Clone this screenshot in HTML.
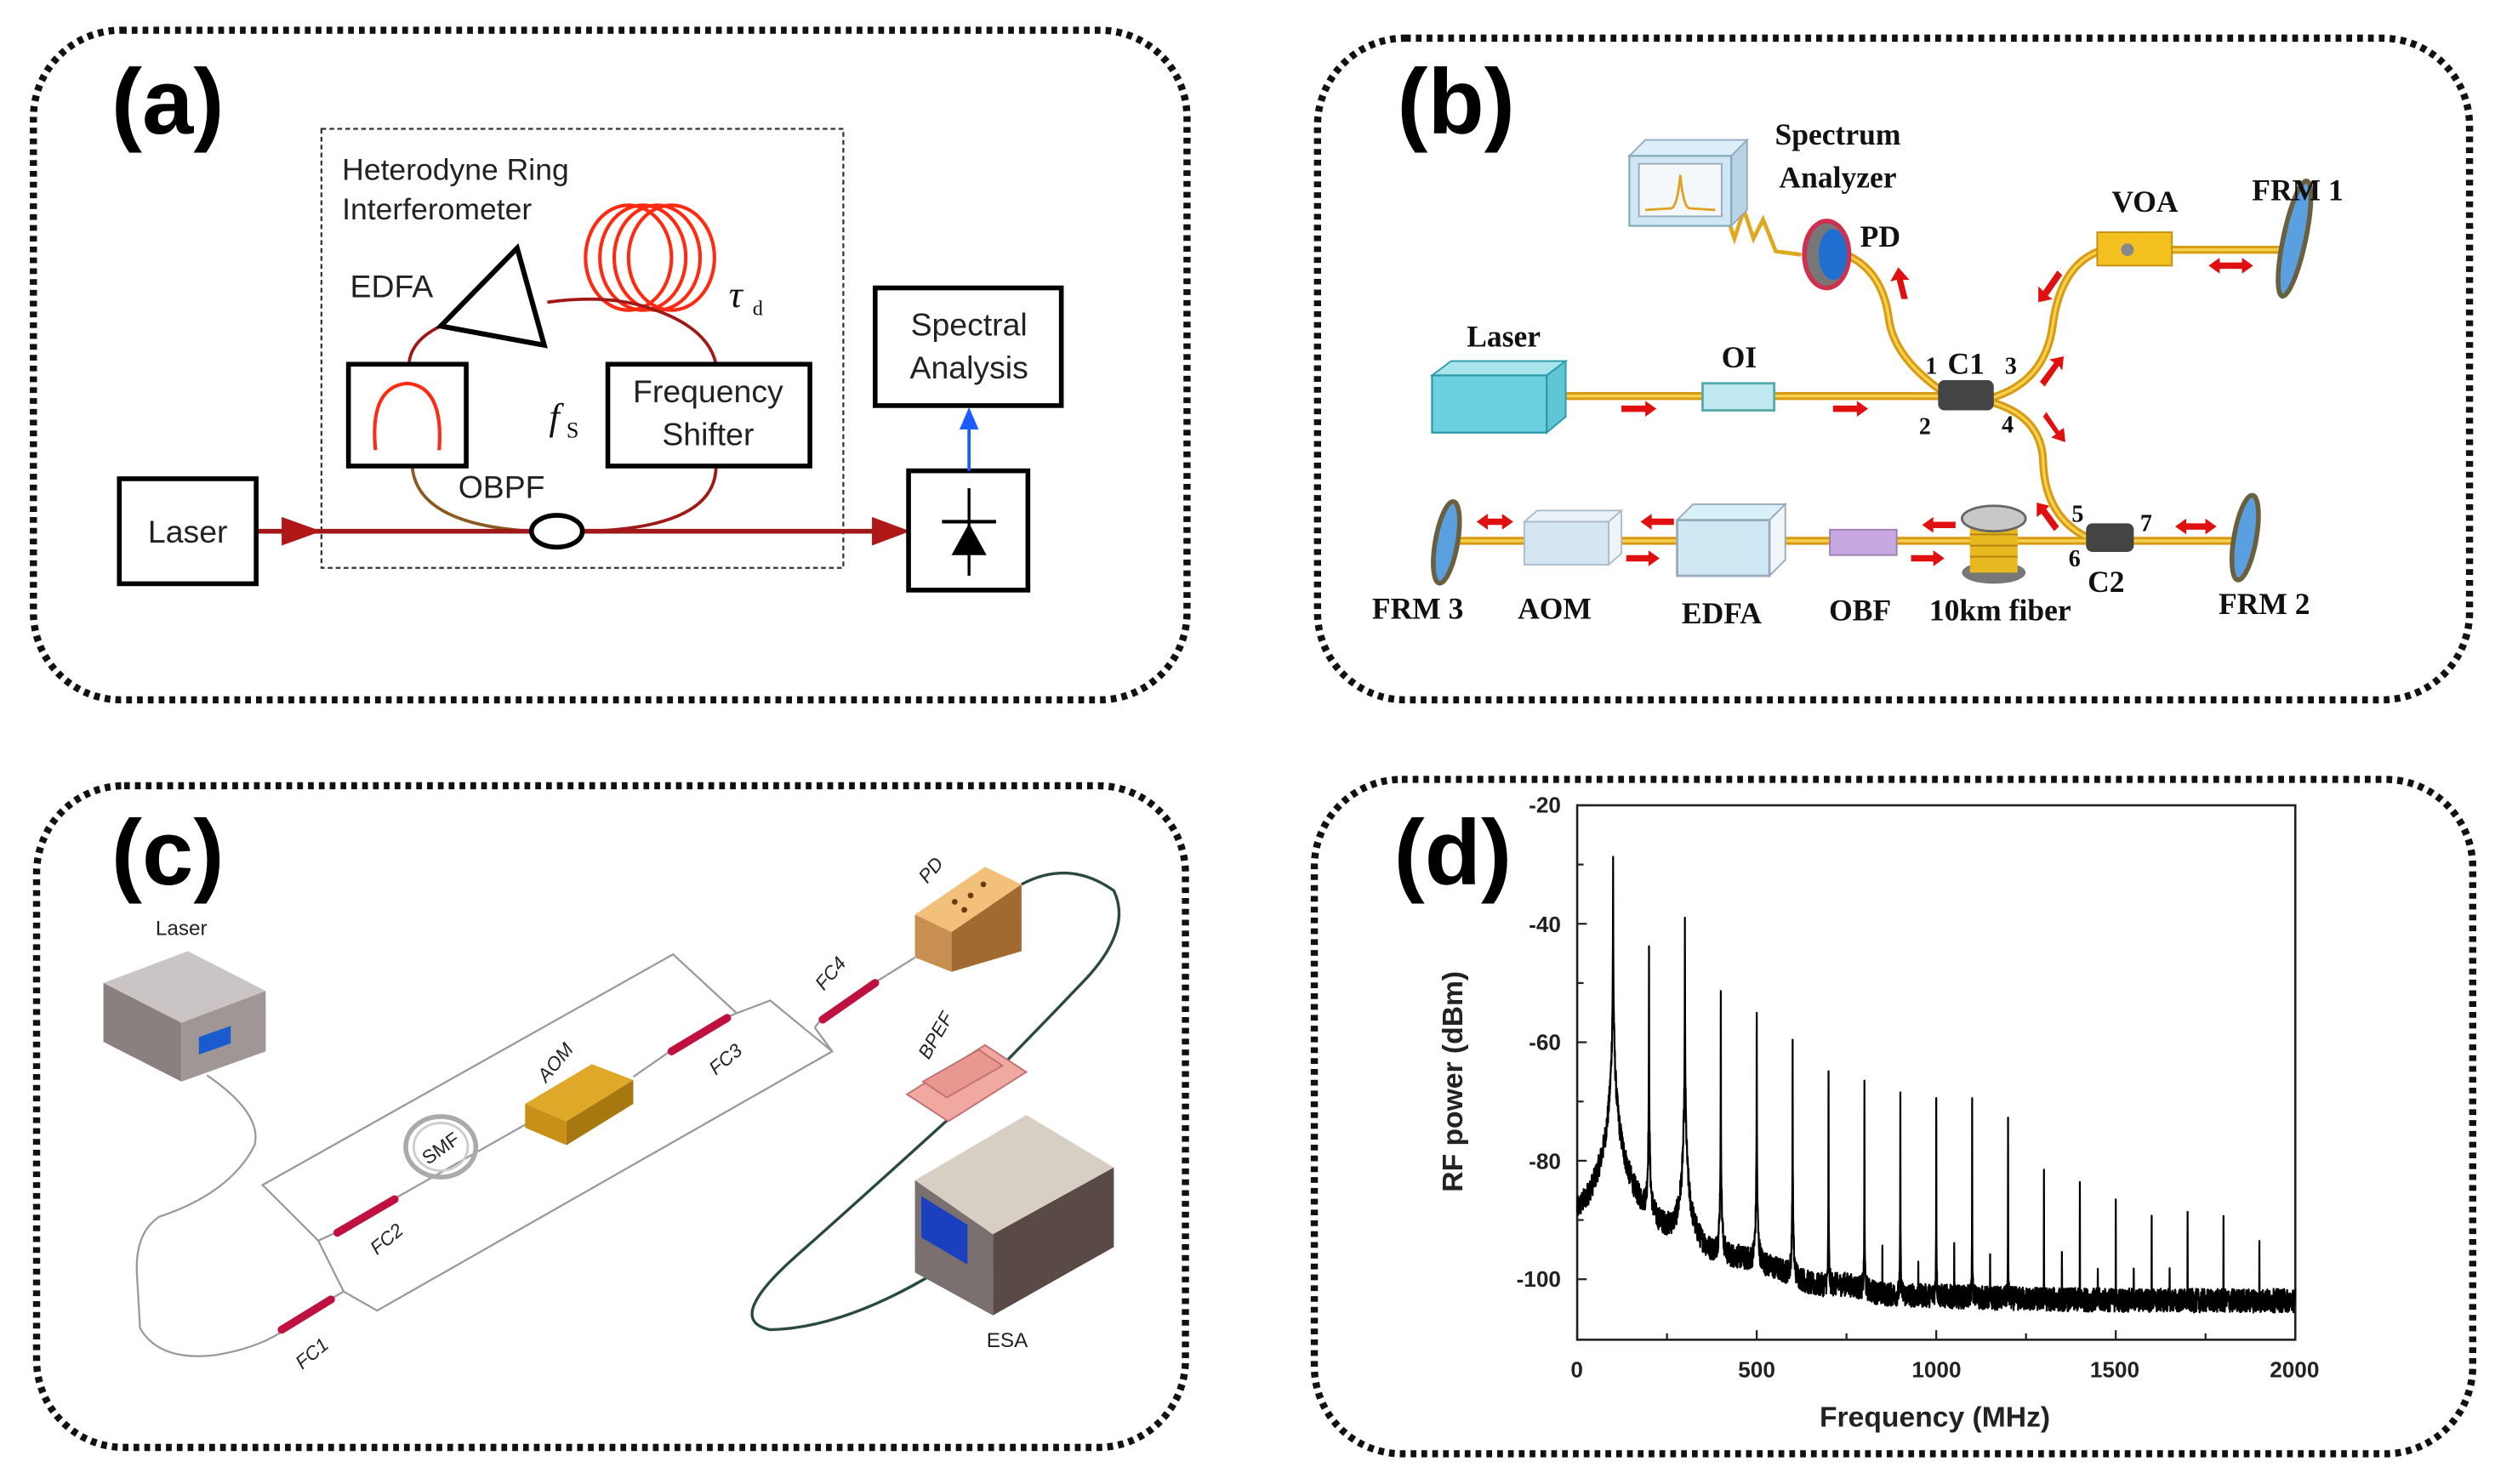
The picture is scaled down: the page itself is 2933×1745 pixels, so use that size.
<!DOCTYPE html>
<html><head><meta charset="utf-8"><style>
html,body{margin:0;padding:0;background:#fff;}
svg{display:block;}
.lbl{font-family:"Liberation Sans",sans-serif;font-weight:bold;font-size:58px;fill:#000;}
.sa{font-family:"Liberation Sans",sans-serif;fill:#222;}
.sb{font-family:"Liberation Serif",serif;font-weight:bold;fill:#111;}
</style></head><body>
<svg width="2933" height="1745" viewBox="0 0 1568 933" preserveAspectRatio="none" xmlns="http://www.w3.org/2000/svg">
<g fill="none" stroke="#111" stroke-width="4.5" stroke-dasharray="3.6 3.2">
<rect x="21" y="19" width="725" height="421" rx="55"/>
<rect x="828" y="24" width="724" height="416" rx="55"/>
<rect x="23" y="494" width="722" height="416" rx="55"/>
<rect x="826" y="490" width="728" height="424" rx="55"/>
</g>

<!-- (a) -->
<text class="lbl" x="70" y="84">(a)</text>
<rect x="202" y="81" width="328" height="276" fill="none" stroke="#333" stroke-width="1.2" stroke-dasharray="3 2"/>
<text class="sa" x="215" y="113" font-size="19">Heterodyne Ring</text>
<text class="sa" x="215" y="138" font-size="19">Interferometer</text>
<g fill="none" stroke="#ff2a10" stroke-width="2.2">
<ellipse cx="395" cy="162" rx="27" ry="33"/><ellipse cx="404" cy="162" rx="27" ry="33"/>
<ellipse cx="413" cy="162" rx="27" ry="33"/><ellipse cx="422" cy="162" rx="27" ry="33"/>
</g>
<text x="458" y="193" font-family="Liberation Serif,serif" font-style="italic" font-size="24" fill="#111">τ</text>
<text x="473" y="198" font-family="Liberation Serif,serif" font-size="13" fill="#111">d</text>
<text class="sa" x="220" y="187" font-size="20">EDFA</text>
<g fill="none" stroke="#a01818" stroke-width="2">
<path d="M257,229 Q258,214 277,205"/>
<path d="M344,190 Q380,185 406,193 Q445,205 450,229"/>
<path d="M450,293 Q450,332 368,334"/>
</g>
<path d="M259,293 Q262,330 335,334" fill="none" stroke="#8a5a20" stroke-width="2"/>
<polygon points="325,156 277,205 342,217" fill="#fff" stroke="#000" stroke-width="3.2"/>
<rect x="219" y="229" width="74" height="64" fill="#fff" stroke="#000" stroke-width="3"/>
<path d="M236,283 Q232,243 256,241 Q279,243 276,283" fill="none" stroke="#ff2a10" stroke-width="2.2"/>
<rect x="382" y="229" width="127" height="64" fill="#fff" stroke="#000" stroke-width="3"/>
<text class="sa" x="445" y="253" font-size="20" text-anchor="middle">Frequency</text>
<text class="sa" x="445" y="280" font-size="20" text-anchor="middle">Shifter</text>
<text x="345" y="270" font-family="Liberation Serif,serif" font-style="italic" font-size="24" fill="#111">f</text>
<text x="356" y="275" font-family="Liberation Serif,serif" font-size="14" fill="#111">S</text>
<text class="sa" x="288" y="313" font-size="20">OBPF</text>
<line x1="161" y1="334" x2="552" y2="334" stroke="#a01818" stroke-width="3"/>
<polygon points="177,325 202,334 177,343" fill="#b01818"/>
<polygon points="548,325 572,334 548,343" fill="#b01818"/>
<ellipse cx="350" cy="334" rx="16" ry="10" fill="#fff" stroke="#000" stroke-width="3"/>
<rect x="75" y="301" width="86" height="66" fill="#fff" stroke="#000" stroke-width="3"/>
<text class="sa" x="118" y="341" font-size="20" text-anchor="middle">Laser</text>
<rect x="571" y="296" width="75" height="75" fill="#fff" stroke="#000" stroke-width="3"/>
<line x1="609" y1="307" x2="609" y2="362" stroke="#000" stroke-width="1.8"/>
<line x1="592" y1="328" x2="626" y2="328" stroke="#000" stroke-width="2.2"/>
<polygon points="609,329 598,349 620,349" fill="#000"/>
<rect x="550" y="181" width="117" height="74" fill="#fff" stroke="#000" stroke-width="3"/>
<text class="sa" x="609" y="211" font-size="20" text-anchor="middle">Spectral</text>
<text class="sa" x="609" y="238" font-size="20" text-anchor="middle">Analysis</text>
<line x1="609" y1="296" x2="609" y2="268" stroke="#1a5cff" stroke-width="2"/>
<polygon points="603,270 609,256 615,270" fill="#1a5cff"/>

<!-- (b) -->
<text class="lbl" x="878" y="84">(b)</text>
<g stroke-linecap="round" fill="none">
<g stroke="#d89a10" stroke-width="5">
<path d="M984,249 L1222,249"/>
<path d="M1222,247 Q1190,225 1187,200 Q1183,170 1160,160"/>
<path d="M1252,250 Q1285,240 1290,205 Q1295,165 1322,157"/>
<path d="M1365,157 L1436,157"/>
<path d="M1252,253 Q1283,262 1284,290 Q1285,325 1312,338"/>
<path d="M910,340 L1405,340"/>
</g>
<g stroke="#f8d050" stroke-width="1.8">
<path d="M984,249 L1222,249"/>
<path d="M1222,247 Q1190,225 1187,200 Q1183,170 1160,160"/>
<path d="M1252,250 Q1285,240 1290,205 Q1295,165 1322,157"/>
<path d="M1365,157 L1436,157"/>
<path d="M1252,253 Q1283,262 1284,290 Q1285,325 1312,338"/>
<path d="M910,340 L1405,340"/>
</g>
<path d="M1086,138 L1090,150 L1096,132 L1102,150 L1108,138 L1116,158 L1131,160" stroke="#e0a820" stroke-width="2.5"/>
</g>
<polygon points="1024,98 1034,88 1098,88 1088,98" fill="#dceef8" stroke="#9ab" stroke-width="1"/>
<polygon points="1088,98 1098,88 1098,132 1088,142" fill="#b8d4e4" stroke="#9ab" stroke-width="1"/>
<rect x="1024" y="98" width="64" height="44" fill="#cfe6f5" stroke="#8ab" stroke-width="1.2"/>
<rect x="1030" y="103" width="52" height="33" fill="#f4f8fa" stroke="#9ab" stroke-width="1"/>
<path d="M1034,132 L1050,131 Q1054,131 1056,110 Q1058,131 1062,131 L1078,132" fill="none" stroke="#e0a020" stroke-width="1.5"/>
<text class="sb" x="1155" y="91" font-size="19" text-anchor="middle">Spectrum</text>
<text class="sb" x="1155" y="118" font-size="19" text-anchor="middle">Analyzer</text>
<ellipse cx="1148" cy="160" rx="14" ry="21" fill="#777" stroke="#d03050" stroke-width="3"/>
<ellipse cx="1152" cy="160" rx="9" ry="16" fill="#1e6fd0"/>
<text class="sb" x="1169" y="155" font-size="19">PD</text>
<polygon points="900,236 912,227 984,227 972,236" fill="#a8e4ec" stroke="#2a9aaa" stroke-width="1"/>
<polygon points="972,236 984,227 984,262 972,272" fill="#60c6d6" stroke="#2a9aaa" stroke-width="1"/>
<rect x="900" y="236" width="72" height="36" fill="#6cd0e0" stroke="#2a9aaa" stroke-width="1.2"/>
<text class="sb" x="945" y="218" font-size="19" text-anchor="middle">Laser</text>
<rect x="1070" y="241" width="45" height="17" fill="#bfe8f0" stroke="#5aa" stroke-width="1.5"/>
<text class="sb" x="1093" y="231" font-size="19" text-anchor="middle">OI</text>
<g fill="#e01010">
<polygon points="1019,255 1034,255 1034,252 1041,257 1034,262 1034,259 1019,259"/>
<polygon points="1152,255 1167,255 1167,252 1174,257 1167,262 1167,259 1152,259"/>
</g>
<rect x="1218" y="239" width="35" height="19" rx="4" fill="#444"/>
<text class="sb" x="1210" y="235" font-size="15">1</text>
<text class="sb" x="1224" y="235" font-size="19">C1</text>
<text class="sb" x="1260" y="235" font-size="15">3</text>
<text class="sb" x="1206" y="273" font-size="15">2</text>
<text class="sb" x="1258" y="272" font-size="15">4</text>
<rect x="1318" y="146" width="47" height="21" fill="#f4c020" stroke="#c09010" stroke-width="1"/>
<circle cx="1337" cy="157" r="4" fill="#888"/>
<text class="sb" x="1348" y="133" font-size="19" text-anchor="middle">VOA</text>
<ellipse cx="1442" cy="150" rx="7" ry="37" transform="rotate(12 1442 150)" fill="#5aa0e0" stroke="#6a6040" stroke-width="3"/>
<text class="sb" x="1444" y="126" font-size="19" text-anchor="middle">FRM 1</text>
<g fill="#e01010">
<polygon points="1388,167 1395,162 1395,165 1409,165 1409,162 1416,167 1409,172 1409,169 1395,169 1395,172"/>
<polygon points="1367,331 1374,326 1374,329 1386,329 1386,326 1393,331 1386,336 1386,333 1374,333 1374,336"/>
<polygon points="928,328 935,323 935,326 944,326 944,323 951,328 944,333 944,330 935,330 935,333"/>
<polygon points="1031,328 1038,323 1038,326 1052,326 1052,330 1038,330 1038,333"/>
<polygon points="1208,330 1215,325 1215,328 1229,328 1229,332 1215,332 1215,335"/>
<polygon points="1022,349 1036,349 1036,346 1043,351 1036,356 1036,353 1022,353"/>
<polygon points="1201,349 1215,349 1215,346 1222,351 1215,356 1215,353 1201,353"/>
<polygon points="1195,188 1192,176 1188,177 1193,168 1200,176 1196,176 1199,188"/>
<polygon points="1293,170 1284,183 1281,180 1281,190 1290,188 1287,186 1296,173"/>
<polygon points="1282,240 1291,228 1288,226 1297,224 1296,233 1294,230 1285,243"/>
<polygon points="1284,262 1292,273 1289,275 1298,278 1297,269 1294,271 1286,259"/>
<polygon points="1291,334 1283,323 1280,325 1280,316 1288,318 1286,320 1294,331"/>
</g>
<rect x="1311" y="329" width="30" height="18" rx="4" fill="#444"/>
<text class="sb" x="1302" y="328" font-size="15">5</text>
<text class="sb" x="1345" y="334" font-size="15">7</text>
<text class="sb" x="1300" y="356" font-size="15">6</text>
<text class="sb" x="1312" y="372" font-size="19">C2</text>
<ellipse cx="1411" cy="338" rx="7" ry="27" transform="rotate(10 1411 338)" fill="#5aa0e0" stroke="#6a6040" stroke-width="3"/>
<text class="sb" x="1423" y="386" font-size="19" text-anchor="middle">FRM 2</text>
<ellipse cx="1253" cy="360" rx="20" ry="7" fill="#777"/>
<rect x="1238" y="328" width="30" height="32" fill="#e8b820"/>
<g stroke="#b08010" stroke-width="1"><line x1="1238" y1="336" x2="1268" y2="336"/><line x1="1238" y1="343" x2="1268" y2="343"/><line x1="1238" y1="350" x2="1268" y2="350"/></g>
<ellipse cx="1253" cy="326" rx="20" ry="8" fill="#c8c8c8" stroke="#666" stroke-width="1.5"/>
<rect x="1150" y="333" width="42" height="16" fill="#c8a8e0" stroke="#9a80b0" stroke-width="1"/>
<polygon points="1054,327 1064,317 1122,317 1112,327" fill="#d8f0f8" stroke="#9ab" stroke-width="1"/>
<polygon points="1112,327 1122,317 1122,352 1112,362" fill="#f0f6f8" stroke="#9ab" stroke-width="1"/>
<rect x="1054" y="327" width="58" height="35" fill="#cfe8f4" stroke="#9ab" stroke-width="1.5"/>
<polygon points="958,328 966,321 1019,321 1011,328" fill="#e8f2f8" stroke="#abc" stroke-width="1"/>
<polygon points="1011,328 1019,321 1019,348 1011,355" fill="#f0f4f6" stroke="#abc" stroke-width="1"/>
<rect x="958" y="328" width="53" height="27" fill="#d4e6f2" stroke="#abc" stroke-width="1"/>
<ellipse cx="909" cy="341" rx="7" ry="26" transform="rotate(10 909 341)" fill="#5aa0e0" stroke="#6a6040" stroke-width="3"/>
<text class="sb" x="891" y="389" font-size="19" text-anchor="middle">FRM 3</text>
<text class="sb" x="977" y="389" font-size="19" text-anchor="middle">AOM</text>
<text class="sb" x="1082" y="392" font-size="19" text-anchor="middle">EDFA</text>
<text class="sb" x="1169" y="390" font-size="19" text-anchor="middle">OBF</text>
<text class="sb" x="1257" y="390" font-size="19" text-anchor="middle">10km fiber</text>

<!-- (c) -->
<text class="lbl" x="70" y="556">(c)</text>
<text class="sa" x="114" y="588" font-size="13" text-anchor="middle">Laser</text>
<g fill="none" stroke="#999" stroke-width="1.2">
<path d="M130,676 Q165,700 160,720 Q145,750 100,765 Q85,775 86,800 L88,835 Q100,856 135,852 Q160,848 176,838"/>
<path d="M209,816 L216,812 L200,780 L165,745 L423,600 L463,637 L458,639"/>
<path d="M216,812 L237,824 L523,661 L484,629 L463,637"/>
<path d="M211,775 L200,780"/>
<path d="M249,753 L332,706 M398,677 L421,661"/>
<path d="M551,617 L575,602"/>
<path d="M512,646 L516,641 M523,661 L512,646"/>
</g>
<g stroke="#c01040" stroke-width="5" stroke-linecap="round">
<line x1="177" y1="836" x2="208" y2="817"/>
<line x1="212" y1="775" x2="248" y2="754"/>
<line x1="422" y1="661" x2="457" y2="640"/>
<line x1="517" y1="641" x2="550" y2="618"/>
</g>
<ellipse cx="277" cy="721" rx="22" ry="19" fill="none" stroke="#aaa" stroke-width="3"/>
<ellipse cx="277" cy="721" rx="17" ry="15" fill="none" stroke="#ccc" stroke-width="1.5"/>
<text class="sa" x="277" y="726" font-size="12" text-anchor="middle" transform="rotate(-35 277 722)" fill="#333">SMF</text>
<polygon points="65,618 118,598 167,623 114,643" fill="#cbc4c4"/>
<polygon points="65,618 114,643 114,680 65,655" fill="#8a8080"/>
<polygon points="114,643 167,623 167,661 114,680" fill="#a09696"/>
<polygon points="125,652 145,645 145,656 125,663" fill="#1a5cd0"/>
<polygon points="330,694 372,669 398,679 356,705" fill="#e0a828"/>
<polygon points="356,705 398,679 398,694 356,720" fill="#a87810"/>
<polygon points="330,694 356,705 356,720 330,709" fill="#c89018"/>
<text class="sa" x="349" y="672" font-size="12" font-style="italic" text-anchor="middle" transform="rotate(-50 349 668)">AOM</text>
<text class="sa" x="196" y="855" font-size="12" font-style="italic" text-anchor="middle" transform="rotate(-40 196 851)">FC1</text>
<text class="sa" x="243" y="783" font-size="12" font-style="italic" text-anchor="middle" transform="rotate(-40 243 779)">FC2</text>
<text class="sa" x="456" y="670" font-size="12" font-style="italic" text-anchor="middle" transform="rotate(-40 456 666)">FC3</text>
<text class="sa" x="522" y="616" font-size="12" font-style="italic" text-anchor="middle" transform="rotate(-50 522 612)">FC4</text>
<path d="M642,556 Q672,540 700,560 Q712,585 680,618 Q640,660 600,700 Q545,750 500,790 Q455,830 484,836 Q530,835 588,800" fill="none" stroke="#2a4a3a" stroke-width="1.8"/>
<polygon points="575,575 619,545 642,556 598,586" fill="#f2c07a"/>
<polygon points="598,586 642,556 642,598 598,611" fill="#a06a30"/>
<polygon points="575,575 598,586 598,611 575,602" fill="#c89050"/>
<g fill="#6a3a10"><circle cx="600" cy="567" r="1.8"/><circle cx="610" cy="563" r="1.8"/><circle cx="618" cy="556" r="1.8"/><circle cx="606" cy="572" r="1.8"/></g>
<text class="sa" x="585" y="551" font-size="12" font-style="italic" text-anchor="middle" transform="rotate(-50 585 547)">PD</text>
<polygon points="570,688 619,657 645,674 596,705" fill="#f0a8a0" stroke="#c07070" stroke-width="1"/>
<polygon points="580,680 615,660 630,670 595,690" fill="#e89890" stroke="#c07070" stroke-width="1"/>
<text class="sa" x="588" y="655" font-size="12" font-style="italic" text-anchor="middle" transform="rotate(-60 588 651)">BPEF</text>
<polygon points="575,742 645,701 700,734 624,776" fill="#d8cfc4"/>
<polygon points="624,776 700,734 700,784 624,827" fill="#5a4a45"/>
<polygon points="575,742 624,776 624,827 575,800" fill="#7a7070"/>
<polygon points="579,752 608,770 608,795 579,778" fill="#1a40c0"/>
<text class="sa" x="633" y="847" font-size="13" text-anchor="middle">ESA</text>

<!-- (d) -->
<text class="lbl" x="876" y="556">(d)</text>
<rect x="991.2" y="506.3" width="451.3" height="336" fill="none" stroke="#222" stroke-width="1.4"/>
<g stroke="#222" stroke-width="1.2" id="ticks"></g>
<path id="spec" d="" fill="none" stroke="#000" stroke-width="1.2" stroke-linejoin="round"/>
<g font-family="Liberation Sans,sans-serif" font-weight="bold" font-size="14" fill="#222" text-anchor="end">
<text x="981" y="511">-20</text><text x="981" y="586">-40</text><text x="981" y="660">-60</text><text x="981" y="735">-80</text><text x="981" y="809">-100</text>
</g>
<g font-family="Liberation Sans,sans-serif" font-weight="bold" font-size="14" fill="#222" text-anchor="middle">
<text x="991" y="866">0</text><text x="1104" y="866">500</text><text x="1217" y="866">1000</text><text x="1329" y="866">1500</text><text x="1442" y="866">2000</text>
</g>
<text x="1216" y="897" font-family="Liberation Sans,sans-serif" font-weight="bold" font-size="18" fill="#222" text-anchor="middle">Frequency (MHz)</text>
<text x="0" y="0" font-family="Liberation Sans,sans-serif" font-weight="bold" font-size="18" fill="#222" text-anchor="middle" transform="translate(919 680) rotate(-90)">RF power (dBm)</text>
</svg>
<script>
(function(){
var X=function(f){return 991.2+f*0.22565;};
var Y=function(d){return 506.3+(-20-d)*3.7245;};
var pk=[[100,-29,0.1],[200,-45,0.05],[300,-40.5,0.07],[400,-53,0.05],[500,-54.5,0.05],[600,-60,0.05],[700,-66,0.04],[800,-67,0.04],[900,-69,0.04],[1000,-69.5,0.04],[1100,-71,0.04],[1200,-74,0.04],[1300,-81,0.03],[1400,-84,0.03],[1500,-86.5,0.03],[1600,-89,0.03],[1700,-88.5,0.03],[1800,-91.5,0.02],[1900,-93.5,0.02],[850,-94,0.02],[950,-98,0.02],[1050,-94,0.02],[1150,-99,0.02],[1350,-98,0.02],[1450,-99,0.02],[1550,-98,0.02],[1650,-97,0.02]];
var bp=[[0,-95],[50,-97],[180,-100.5],[250,-99],[370,-102],[450,-99.5],[560,-101],[660,-104.5],[750,-103],[850,-105],[1000,-104.5],[2000,-104]];
function base(f){for(var i=0;i<bp.length-1;i++){if(f<=bp[i+1][0]){var t=(f-bp[i][0])/(bp[i+1][0]-bp[i][0]);return bp[i][1]+t*(bp[i+1][1]-bp[i][1]);}}return -104;}
var s=12345;function rnd(){s=(s*1103515245+12345)%2147483648;return s/2147483648;}
var d="";
for(var i=0;i<=4000;i++){
 var f=i/2;
 var p=Math.pow(10,base(f)/10);
 for(var k=0;k<pk.length;k++){var u=(f-pk[k][0])/pk[k][2];p+=Math.pow(10,pk[k][1]/10)/(1+u*u);}
 var db=10*Math.log10(p)+(rnd()-0.5)*4;
 if(db<-109)db=-109;
 d+=(i?"L":"M")+X(f).toFixed(2)+","+Y(db).toFixed(1);
}
document.getElementById("spec").setAttribute("d",d);
var t="";
for(var g=0;g<=2000;g+=250){var x=X(g);var L=(g%500==0)?6:4;t+='<line x1="'+x+'" y1="842.3" x2="'+x+'" y2="'+(842.3-L)+'"/>';}
for(var v=-20;v>=-100;v-=10){var y=Y(v);var L2=(v%20==0)?6:4;t+='<line x1="991.2" y1="'+y+'" x2="'+(991.2+L2)+'" y2="'+y+'"/>';}
document.getElementById("ticks").innerHTML=t;
})();
</script>
</body></html>
